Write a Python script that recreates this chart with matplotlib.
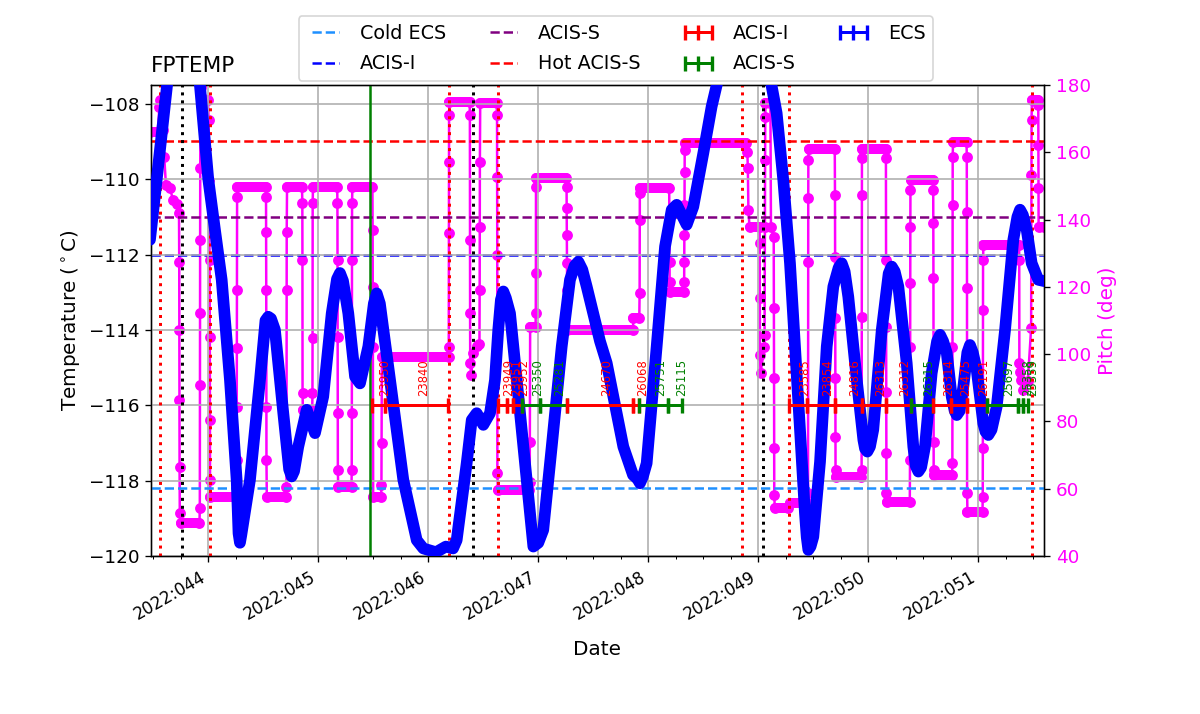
import matplotlib
matplotlib.use('Agg')
import matplotlib.pyplot as plt
from matplotlib.lines import Line2D
from matplotlib.ticker import FixedLocator, MultipleLocator, FuncFormatter

# FPTEMP model (day of year 2022, deg C)
temp_days = [43.470, 43.531, 43.591, 43.652, 43.70, 43.77, 43.85, 43.925, 44.0, 44.061,
             44.122, 44.197, 44.258, 44.275, 44.288, 44.30, 44.379, 44.470, 44.52, 44.545,
             44.57, 44.606, 44.682, 44.735, 44.758, 44.78, 44.818, 44.895, 44.970, 45.045,
             45.122, 45.17, 45.197, 45.225, 45.273, 45.334, 45.379, 45.455, 45.505, 45.531,
             45.56, 45.652, 45.773, 45.895, 45.955, 46.07, 46.16, 46.225, 46.258, 46.349,
             46.395, 46.44, 46.5, 46.561, 46.606, 46.636, 46.66, 46.682, 46.705, 46.743,
             46.804, 46.879, 46.955, 47.0, 47.045, 47.122, 47.213, 47.288, 47.33, 47.364,
             47.40, 47.44, 47.561, 47.622, 47.773, 47.861, 47.90, 47.924, 47.95, 47.985,
             48.076, 48.152, 48.213, 48.258, 48.349, 48.409, 48.5, 48.576, 48.622, 48.75,
             48.95, 49.05, 49.122, 49.167, 49.227, 49.288, 49.334, 49.379, 49.424, 49.44,
             49.455, 49.475, 49.5, 49.561, 49.622, 49.682, 49.73, 49.758, 49.785, 49.818,
             49.895, 49.955, 49.97, 49.991, 50.015, 50.045, 50.122, 50.185, 50.213, 50.24,
             50.273, 50.349, 50.409, 50.43, 50.455, 50.48, 50.515, 50.576, 50.625, 50.652,
             50.68, 50.713, 50.758, 50.785, 50.804, 50.83, 50.864, 50.90, 50.924, 50.95,
             50.985, 51.045, 51.065, 51.091, 51.12, 51.167, 51.243, 51.318, 51.355, 51.379,
             51.405, 51.44, 51.485, 51.545, 51.606]
temp_vals = [-111.61, -110.02, -108.42, -106.8, -105.6, -104.8, -105.5, -107.54, -110.0, -111.35,
             -112.67, -115.33, -117.98, -119.4, -119.65, -119.45, -117.98, -115.33, -113.75, -113.65,
             -113.7, -114.0, -116.21, -117.7, -117.89, -117.75, -117.1, -116.12, -116.74, -115.77,
             -113.56, -112.65, -112.49, -112.7, -113.56, -115.24, -115.42, -114.44, -113.3, -113.03,
             -113.3, -115.33, -117.98, -119.58, -119.8, -119.9, -119.75, -119.8, -119.58, -117.54,
             -116.39, -116.21, -116.52, -116.21, -115.33, -114.0, -113.2, -112.98, -113.15, -113.56,
             -115.33, -117.54, -119.75, -119.65, -119.31, -117.1, -114.44, -112.67, -112.3, -112.19,
             -112.4, -112.85, -114.3, -114.88, -117.1, -117.85, -117.95, -118.07, -117.9, -117.54,
             -114.44, -111.79, -110.81, -110.68, -111.21, -110.73, -109.31, -108.07, -107.5, -105.6,
             -103.8, -105.2, -107.54, -108.25, -110.02, -112.23, -114.44, -116.65, -118.87, -119.5,
             -119.84, -119.75, -119.49, -117.5, -114.44, -112.85, -112.35, -112.23, -112.45, -113.12,
             -115.33, -116.92, -117.15, -117.23, -117.1, -116.65, -114.0, -112.5, -112.32, -112.45,
             -112.85, -114.88, -117.1, -117.6, -117.76, -117.65, -117.1, -115.15, -114.3, -114.13,
             -114.3, -114.61, -115.77, -116.15, -116.26, -116.15, -115.5, -114.6, -114.4, -114.6,
             -115.06, -116.48, -116.7, -116.79, -116.65, -116.04, -114.0, -111.61, -111.0, -110.81,
             -110.95, -111.35, -112.23, -112.67, -112.71]

# pitch (deg)
pitch_days = [43.470, 43.540, 43.556, 43.565, 43.585, 43.600, 43.615, 43.650, 43.680, 43.720,
              43.734, 43.736, 43.737, 43.738, 43.739, 43.741, 43.750, 43.920, 43.923, 43.924,
              43.925, 43.926, 43.927, 43.930, 43.998, 44.003, 44.008, 44.012, 44.014, 44.015,
              44.016, 44.020, 44.255, 44.258, 44.259, 44.260, 44.261, 44.262, 44.265, 44.522,
              44.525, 44.526, 44.527, 44.528, 44.529, 44.532, 44.708, 44.711, 44.712, 44.713,
              44.716, 44.852, 44.855, 44.856, 44.857, 44.860, 44.945, 44.947, 44.948, 44.949,
              44.952, 45.172, 45.174, 45.175, 45.176, 45.177, 45.178, 45.181, 45.302, 45.304,
              45.305, 45.306, 45.307, 45.310, 45.492, 45.494, 45.495, 45.496, 45.499, 45.572,
              45.574, 45.575, 45.578, 46.185, 46.186, 46.187, 46.188, 46.189, 46.192, 46.376,
              46.378, 46.379, 46.380, 46.381, 46.390, 46.410, 46.440, 46.465, 46.467, 46.468,
              46.469, 46.472, 46.622, 46.625, 46.626, 46.627, 46.628, 46.632, 46.920, 46.922,
              46.923, 46.926, 46.975, 46.977, 46.978, 46.979, 46.982, 47.255, 47.257, 47.258,
              47.259, 47.260, 47.261, 47.264, 47.860, 47.865, 47.918, 47.921, 47.922, 47.923,
              47.926, 48.190, 48.193, 48.194, 48.197, 48.324, 48.326, 48.327, 48.328, 48.329,
              48.330, 48.331, 48.334, 48.890, 48.900, 48.905, 48.910, 48.920, 49.012, 49.013,
              49.014, 49.015, 49.020, 49.055, 49.057, 49.060, 49.062, 49.063, 49.065, 49.110,
              49.115, 49.140, 49.142, 49.143, 49.144, 49.145, 49.150, 49.270, 49.285, 49.450,
              49.452, 49.453, 49.454, 49.455, 49.458, 49.695, 49.697, 49.698, 49.699, 49.700,
              49.701, 49.702, 49.705, 49.937, 49.939, 49.940, 49.941, 49.942, 49.945, 50.158,
              50.160, 50.161, 50.162, 50.163, 50.164, 50.165, 50.168, 50.377, 50.379, 50.380,
              50.381, 50.382, 50.383, 50.386, 50.588, 50.590, 50.591, 50.592, 50.593, 50.594,
              50.597, 50.762, 50.764, 50.765, 50.766, 50.767, 50.770, 50.893, 50.895, 50.896,
              50.897, 50.898, 50.901, 51.038, 51.040, 51.041, 51.042, 51.043, 51.046, 51.370,
              51.372, 51.373, 51.380, 51.390, 51.410, 51.450, 51.480, 51.483, 51.484, 51.487,
              51.540, 51.545, 51.546, 51.547, 51.548, 51.600]
pitch_vals = [166.1, 166.1, 173.5, 175.5, 166.6, 158.6, 150.3, 149.5, 145.8, 144.5,
              142.0, 127.5, 107.2, 86.4, 66.5, 52.8, 49.7, 49.7, 54.3, 90.8,
              112.2, 133.9, 155.2, 179.5, 175.5, 169.6, 151.8, 128.0, 105.2, 80.4,
              62.6, 57.6, 57.6, 68.5, 84.4, 101.7, 119.1, 146.8, 149.8, 149.8,
              146.8, 136.4, 119.1, 84.4, 68.5, 57.6, 57.6, 60.6, 119.1, 136.4,
              149.8, 149.8, 144.8, 128.0, 88.4, 83.4, 83.4, 88.4, 104.7, 144.8,
              149.8, 149.8, 144.8, 128.0, 105.2, 82.4, 65.6, 60.6, 60.6, 65.6,
              82.4, 128.0, 144.8, 149.8, 149.8, 136.9, 120.0, 102.2, 57.6, 57.6,
              61.1, 73.6, 99.2, 99.2, 102.2, 135.9, 157.2, 171.1, 175.0, 175.0,
              171.1, 133.9, 112.1, 97.3, 93.8, 100.2, 102.5, 103.0, 119.1, 137.9,
              157.2, 174.5, 174.5, 171.1, 152.7, 129.5, 64.6, 59.6, 59.6, 62.1,
              74.0, 108.2, 108.2, 112.1, 124.0, 149.8, 152.3, 152.3, 149.8, 143.3,
              135.4, 127.0, 119.1, 107.2, 107.2, 110.7, 110.7, 118.1, 139.9, 147.8,
              149.3, 149.3, 127.5, 121.5, 118.6, 118.6, 121.5, 127.5, 135.4, 144.3,
              154.2, 160.7, 162.7, 162.7, 160.2, 155.2, 142.8, 137.9, 137.9, 133.0,
              116.6, 99.7, 94.3, 102.2, 105.7, 137.9, 157.7, 170.6, 174.5, 174.5,
              137.9, 134.9, 113.7, 92.9, 72.1, 58.1, 54.2, 54.2, 55.7, 55.7,
              58.6, 127.5, 146.3, 157.7, 161.0, 161.0, 147.3, 129.0, 110.7, 92.8,
              75.5, 65.6, 63.6, 63.6, 65.6, 111.1, 147.3, 158.2, 161.0, 161.0,
              158.2, 128.0, 108.2, 88.8, 70.5, 58.6, 56.1, 56.1, 68.5, 102.2,
              121.1, 137.9, 148.8, 151.8, 151.8, 148.8, 138.9, 122.5, 74.0, 65.6,
              64.1, 64.1, 67.6, 102.2, 144.3, 158.7, 162.9, 162.9, 158.7, 142.3,
              119.6, 58.6, 53.2, 53.2, 57.6, 72.0, 113.1, 128.0, 132.4, 132.4,
              128.0, 97.4, 94.7, 92.3, 89.3, 92.0, 107.7, 153.2, 169.6, 175.5,
              175.5, 174.0, 162.2, 149.4, 137.8, 137.8]

# observations
obs_ids = ['23950', '23840', '23949', '23951', '23952', '25350', '25281', '24670', '26068',
           '25751', '25115', '23585', '23854', '24816', '26313', '26312', '26315', '26314',
           '25475', '26191', '25697', '25358', '25359']
obs_inst = ['I', 'I', 'I', 'I', 'I', 'S', 'S', 'I', 'I',
            'S', 'S', 'I', 'I', 'I', 'I', 'I', 'S', 'I',
            'I', 'I', 'S', 'S', 'S']
obs_start = [45.486, 45.606, 46.636, 46.715, 46.770, 46.852, 47.015, 47.258, 47.861,
             47.918, 48.182, 49.282, 49.440, 49.697, 49.940, 50.161, 50.388, 50.588,
             50.752, 50.895, 51.076, 51.364, 51.409]
obs_stop = [45.606, 46.182, 46.715, 46.770, 46.852, 47.015, 47.258, 47.861, 47.918,
            48.182, 48.306, 49.440, 49.697, 49.940, 50.161, 50.388, 50.588, 50.752,
            50.895, 51.076, 51.364, 51.409, 51.455]

# limits
cold_ecs = -118.2
acis_i = -112.0
acis_s = -111.0
hot_acis_s = -109.0

red_dotted = [43.561, 44.015, 46.188, 46.636, 48.855, 49.282, 51.491]
black_dotted = [43.764, 46.409, 49.04]
green_line = [45.47]

day_ticks = [44, 45, 46, 47, 48, 49, 50, 51]

fig = plt.figure(figsize=(10, 5.95), dpi=120)
ax = fig.add_axes([0.1258, 0.2213, 0.7442, 0.6597])
ax2 = ax.twinx()
ax.set_zorder(ax2.get_zorder() + 1)
ax.patch.set_visible(False)

# pitch
ax2.plot(pitch_days, pitch_vals, color='magenta', lw=1.5, marker='o', ms=5.5)
for i in range(len(pitch_days) - 1):
    if pitch_vals[i] == pitch_vals[i + 1]:
        ax2.plot(pitch_days[i:i + 2], pitch_vals[i:i + 2], color='magenta', lw=6,
                 solid_capstyle='round')
ax2.set_ylim(40, 180)
ax2.set_ylabel('Pitch (deg)', color='magenta', fontsize=12)
ax2.tick_params(axis='y', labelcolor='magenta', labelsize=11)

# limit lines
h1 = ax.axhline(cold_ecs, ls='--', color='dodgerblue', lw=1.5, label='Cold ECS')
h2 = ax.axhline(acis_i, ls='--', color='blue', lw=1.5, label='ACIS-I', zorder=1)
h3 = ax.axhline(acis_s, ls='--', color='purple', lw=1.5, label='ACIS-S')
h4 = ax.axhline(hot_acis_s, ls='--', color='red', lw=1.5, label='Hot ACIS-S')

for t in red_dotted:
    ax.axvline(t, ls=':', color='red', lw=1.8)
for t in black_dotted:
    ax.axvline(t, ls=':', color='black', lw=1.8)
for t in green_line:
    ax.axvline(t, color='green', lw=1.5)

# temperature
ax.plot(temp_days, temp_vals, color='blue', lw=7, solid_capstyle='round',
        solid_joinstyle='round', zorder=3)

# obsids
for oid, inst, t0, t1 in zip(obs_ids, obs_inst, obs_start, obs_stop):
    c = 'red' if inst == 'I' else 'green'
    ax.plot([t0, t1], [-116, -116], color=c, lw=1.8, marker='|', ms=9, mew=2, zorder=4)
    ax.text((t0 + t1) / 2, -115.75, oid, rotation=90, fontsize=7, color=c,
            ha='left', va='bottom', zorder=5)

h5 = Line2D([], [], color='red', lw=1.8, marker='|', ms=9, mew=2, label='ACIS-I')
h6 = Line2D([], [], color='green', lw=1.8, marker='|', ms=9, mew=2, label='ACIS-S')
h7 = Line2D([], [], color='blue', lw=1.8, marker='|', ms=9, mew=2, label='ECS')

ax.set_xlim(43.479, 51.597)
ax.set_ylim(-120, -107.5)
ax.xaxis.set_major_locator(FixedLocator(day_ticks))
ax.xaxis.set_minor_locator(MultipleLocator(0.25))
ax.xaxis.set_major_formatter(FuncFormatter(lambda v, p: '2022:%03d' % int(round(v))))
for lbl in ax.get_xticklabels():
    lbl.set_rotation(30)
    lbl.set_ha('right')
ax.tick_params(axis='y', labelsize=11)
ax.grid(True, color='#b0b0b0', lw=1.0)
ax.set_xlabel('Date', fontsize=12, labelpad=10)
ax.set_ylabel('Temperature ($^\\circ$C)', fontsize=12)
ax.set_title('FPTEMP', loc='left', fontsize=13, pad=8)

ax.legend(handles=[h1, h2, h3, h4, h5, h6, h7], ncol=4, numpoints=3, fontsize=11.5,
          labelspacing=0.6, borderaxespad=0.2, loc='lower center',
          bbox_to_anchor=(0.5207, 1.0))

fig.savefig('out.png', dpi=120)
